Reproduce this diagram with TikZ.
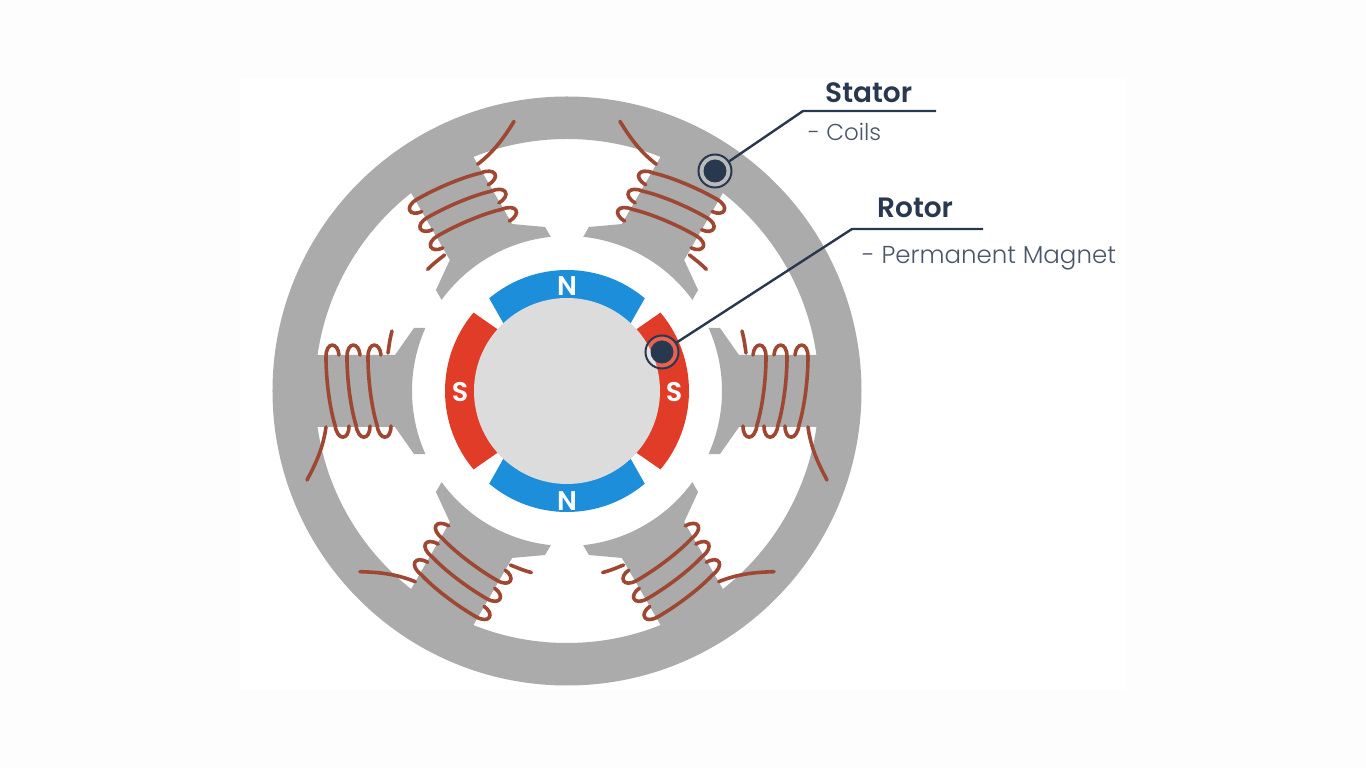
\documentclass[tikz,border=0pt]{standalone}
\usepackage{fontspec}
\setmainfont{Poppins}
\newfontfamily\labelbold{Poppins SemiBold}
\newfontfamily\labellight{Poppins Light}
\usepackage{xcolor}
\definecolor{statorgray}{RGB}{171,171,171}
\definecolor{rotorgray}{RGB}{220,220,220}
\definecolor{magnetblue}{RGB}{28,142,218}
\definecolor{magnetred}{RGB}{224,60,40}
\definecolor{coilbrown}{RGB}{158,72,52}
\definecolor{leadernavy}{RGB}{40,56,78}
\definecolor{paperoff}{RGB}{253,253,253}
\tikzset{
    coilwire/.style={draw=coilbrown, line width=3.6pt, line cap=round},
    leaderline/.style={draw=leadernavy, line width=2.4pt},
    poleletter/.style={text=white, font=\labelbold\fontsize{27}{27}\selectfont, inner sep=0pt},
    headlabel/.style={text=leadernavy, font=\labelbold\fontsize{28}{28}\selectfont, anchor=base west, inner sep=0pt},
    sublabel/.style={text=leadernavy!85, font=\labellight\fontsize{23}{23}\selectfont, anchor=base west, inner sep=0pt},
    dotring/.style={circle, draw=leadernavy, line width=2pt, fill=white, fill opacity=0.2, text opacity=1, minimum size=33pt, inner sep=0pt},
    dotcore/.style={circle, fill=leadernavy, minimum size=23pt, inner sep=0pt}
}
\begin{document}
\begin{tikzpicture}[x=1pt, y=1pt]
    % Page and panel
    \fill[paperoff] (-567,-377) rectangle (799,391);
    \useasboundingbox (-567,-377) rectangle (799,391);
    \fill[white] (-327,-299) rectangle (558,313);

    % Stator ring
    \fill[statorgray, even odd rule] (0,0) circle (294.5) (0,0) circle (252);

    % Teeth and coils
    \foreach \ang/\flip in {0/1, 60/-1, 120/1, 180/-1, 240/1, 300/-1} {
        \fill[statorgray, rotate=\ang] (-24:155) arc[start angle=-24, end angle=24, radius=155]
            -- (153,63) -- (172,36) -- (258,36) -- (258,-36) -- (172,-36) -- (153,-63) -- cycle;
        \begin{scope}[rotate=\ang, yscale=\flip]
            \foreach \a in {193, 214, 235}
                \draw[coilwire] (\a-7,36) .. controls (\a-6,49) and (\a+6,50) .. (\a+6,34)
                    .. controls (\a+6,10) and (\a+2,-18) .. (\a-3,-34)
                    .. controls (\a-5,-50) and (\a-17,-50) .. (\a-17,-35);
            % Leads
            \draw[coilwire] (175,60) .. controls (177,52) .. (179,38);
            \draw[coilwire] (241,-36) .. controls (244,-58) and (252,-74) .. (260,-89);
        \end{scope}
    }

    % Magnets
    \foreach \ang in {90, 270}
        \fill[magnetblue, rotate=\ang] (-40:121) arc[start angle=-40, end angle=40, radius=121]
            -- (44:88) -- (-44:88) -- cycle;
    \foreach \ang in {0, 180}
        \fill[magnetred, rotate=\ang] (-40:122) arc[start angle=-40, end angle=40, radius=122]
            -- (42:88) -- (-42:88) -- cycle;

    % Rotor core
    \fill[rotorgray] (0,0) circle (93);

    % Pole letters
    \node[poleletter] (northtop) at (0,105) {N};
    \node[poleletter] (northbottom) at (0,-110) {N};
    \node[poleletter] (southleft) at (-107,-1) {S};
    \node[poleletter] (southright) at (107,-1) {S};

    % Stator callout
    \node[dotring] (statordot) at (148,220) {};
    \node[dotcore] (statorcore) at (statordot) {};
    \coordinate (statorbend) at (236,280);
    \coordinate (statorend) at (369,280);
    \draw[leaderline] (statordot) -- (statorbend) -- (statorend);
    \node[headlabel] (statorhead) at (258,288) {Stator};
    \node[sublabel] (statorsub) at (241,250) {- Coils};

    % Rotor callout
    \node[dotring] (rotordot) at (95,39) {};
    \node[dotcore] (rotorcore) at (rotordot) {};
    \coordinate (rotorbend) at (285,162);
    \coordinate (rotorend) at (416,162);
    \draw[leaderline] (rotordot) -- (rotorbend) -- (rotorend);
    \node[headlabel] (rotorhead) at (310,173) {Rotor};
    \node[sublabel, font=\labellight\fontsize{24.5}{24.5}\selectfont] (rotorsub) at (295,127) {- Permanent Magnet};
\end{tikzpicture}
\end{document}
